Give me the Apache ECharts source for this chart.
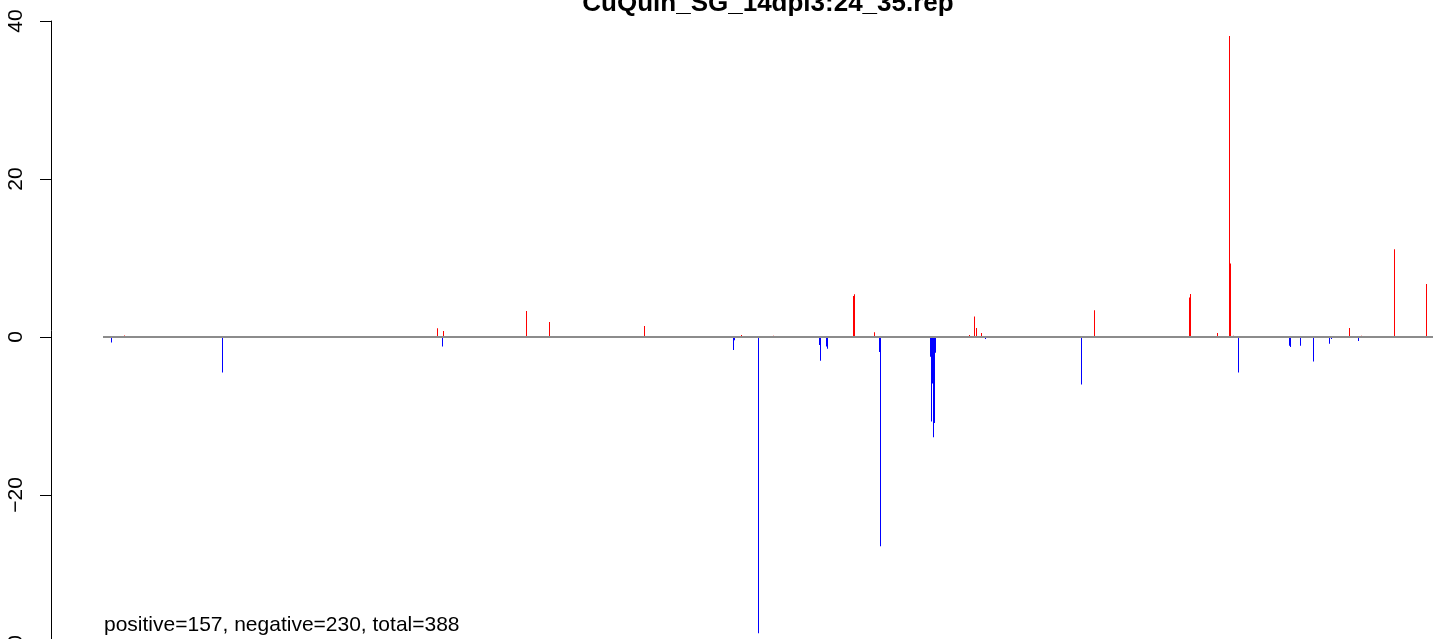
<!DOCTYPE html>
<html>
<head>
<meta charset="utf-8">
<script src="https://cdn.jsdelivr.net/npm/echarts@6/dist/echarts.min.js"></script>
<style>
html,body{margin:0;padding:0;background:#fff;}
#chart{width:1433px;height:639px;}
</style>
</head>
<body>
<div id="chart"></div>
<script>
// Positions (relative genomic position units) and values of the bars
var posPositions = [73, 386, 392, 475, 498, 593, 690, 722, 802, 803, 823, 918, 923, 925, 930, 1043, 1138, 1139, 1166, 1178, 1179, 1182, 1298, 1310, 1343, 1375];
var posValues    = [0.2, 1.1, 0.75, 3.3, 1.9, 1.4, 0.25, 0.15, 5.2, 5.4, 0.6, 0.25, 2.6, 1.15, 0.5, 3.4, 5.0, 5.45, 0.5, 38.1, 9.3, 0.15, 1.15, 0.15, 11.1, 6.7];
var negPositions = [60, 171, 391, 682, 683, 707, 768, 769, 775, 776, 828, 829, 879, 880, 881, 882, 883, 884, 934, 1030, 1187, 1238, 1239, 1249, 1262, 1278, 1280, 1307];
var negValues    = [-0.7, -4.5, -1.2, -1.65, -0.4, -37.5, -1.0, -3.0, -1.2, -1.5, -1.9, -26.5, -2.5, -10.7, -5.9, -12.7, -10.9, -2.0, -0.25, -6.0, -4.5, -1.1, -1.25, -1.1, -3.1, -0.85, -0.25, -0.5];
var yTicks = [-40, -20, 0, 20, 40];
var baselineRange = [52, 1390];
var titleText = 'CuQuin_SG_14dpi3:24_35.rep';
var summaryText = 'positive=157, negative=230, total=388';

function pairs(xs, ys) { return xs.map(function (x, i) { return [x, ys[i]]; }); }

function renderBar(params, api) {
  var p = api.value(0), v = api.value(1);
  var a = api.coord([p, 0]);
  var b = api.coord([p, v]);
  var top = Math.min(a[1], b[1]);
  var h = Math.abs(a[1] - b[1]);
  return {
    type: 'rect',
    shape: { x: Math.round(a[0]), y: top, width: 1, height: h },
    style: { fill: api.visual('color') }
  };
}

var chart = echarts.init(document.getElementById('chart'), null, { renderer: 'canvas' });
chart.setOption({
  animation: false,
  backgroundColor: '#ffffff',
  grid: { left: 51, right: 0, top: 21, height: 632, containLabel: false, outerBoundsMode: 'none' },
  xAxis: {
    type: 'value', min: 0, max: 1382,
    show: false
  },
  yAxis: {
    type: 'value', min: yTicks[0], max: yTicks[yTicks.length - 1], interval: 20,
    axisLine: { show: true, lineStyle: { color: '#000', width: 1 } },
    axisTick: { show: true, length: 11, lineStyle: { color: '#000', width: 1 } },
    splitLine: { show: false },
    axisLabel: {
      rotate: 90, margin: 24, color: '#000',
      fontFamily: 'Liberation Sans, Arial, sans-serif', fontSize: 21,
      formatter: function (v) { return v < 0 ? '\u2212' + Math.abs(v) : String(v); }
    }
  },
  graphic: [
    {
      type: 'text', x: 768, y: -9, z: 100,
      style: { text: titleText, font: 'bold 26px "Liberation Sans", Arial, sans-serif', fill: '#000', textAlign: 'center', textVerticalAlign: 'top' }
    },
    {
      type: 'text', x: 104, y: 615, z: 100,
      style: { text: summaryText, font: '21px "Liberation Sans", Arial, sans-serif', fill: '#000', textAlign: 'left', textVerticalAlign: 'top' }
    }
  ],
  series: [
    {
      type: 'custom', name: 'positive', renderItem: renderBar,
      itemStyle: { color: '#ff0000' },
      data: pairs(posPositions, posValues), clip: false, z: 2
    },
    {
      type: 'custom', name: 'negative', renderItem: renderBar,
      itemStyle: { color: '#0000ff' },
      data: pairs(negPositions, negValues), clip: false, z: 2
    },
    {
      type: 'line', name: 'baseline', symbol: 'none', silent: true, z: 3,
      lineStyle: { color: '#8c8c8c', width: 2 },
      data: [[baselineRange[0], 0], [baselineRange[1], 0]]
    }
  ]
});
</script>
</body>
</html>
